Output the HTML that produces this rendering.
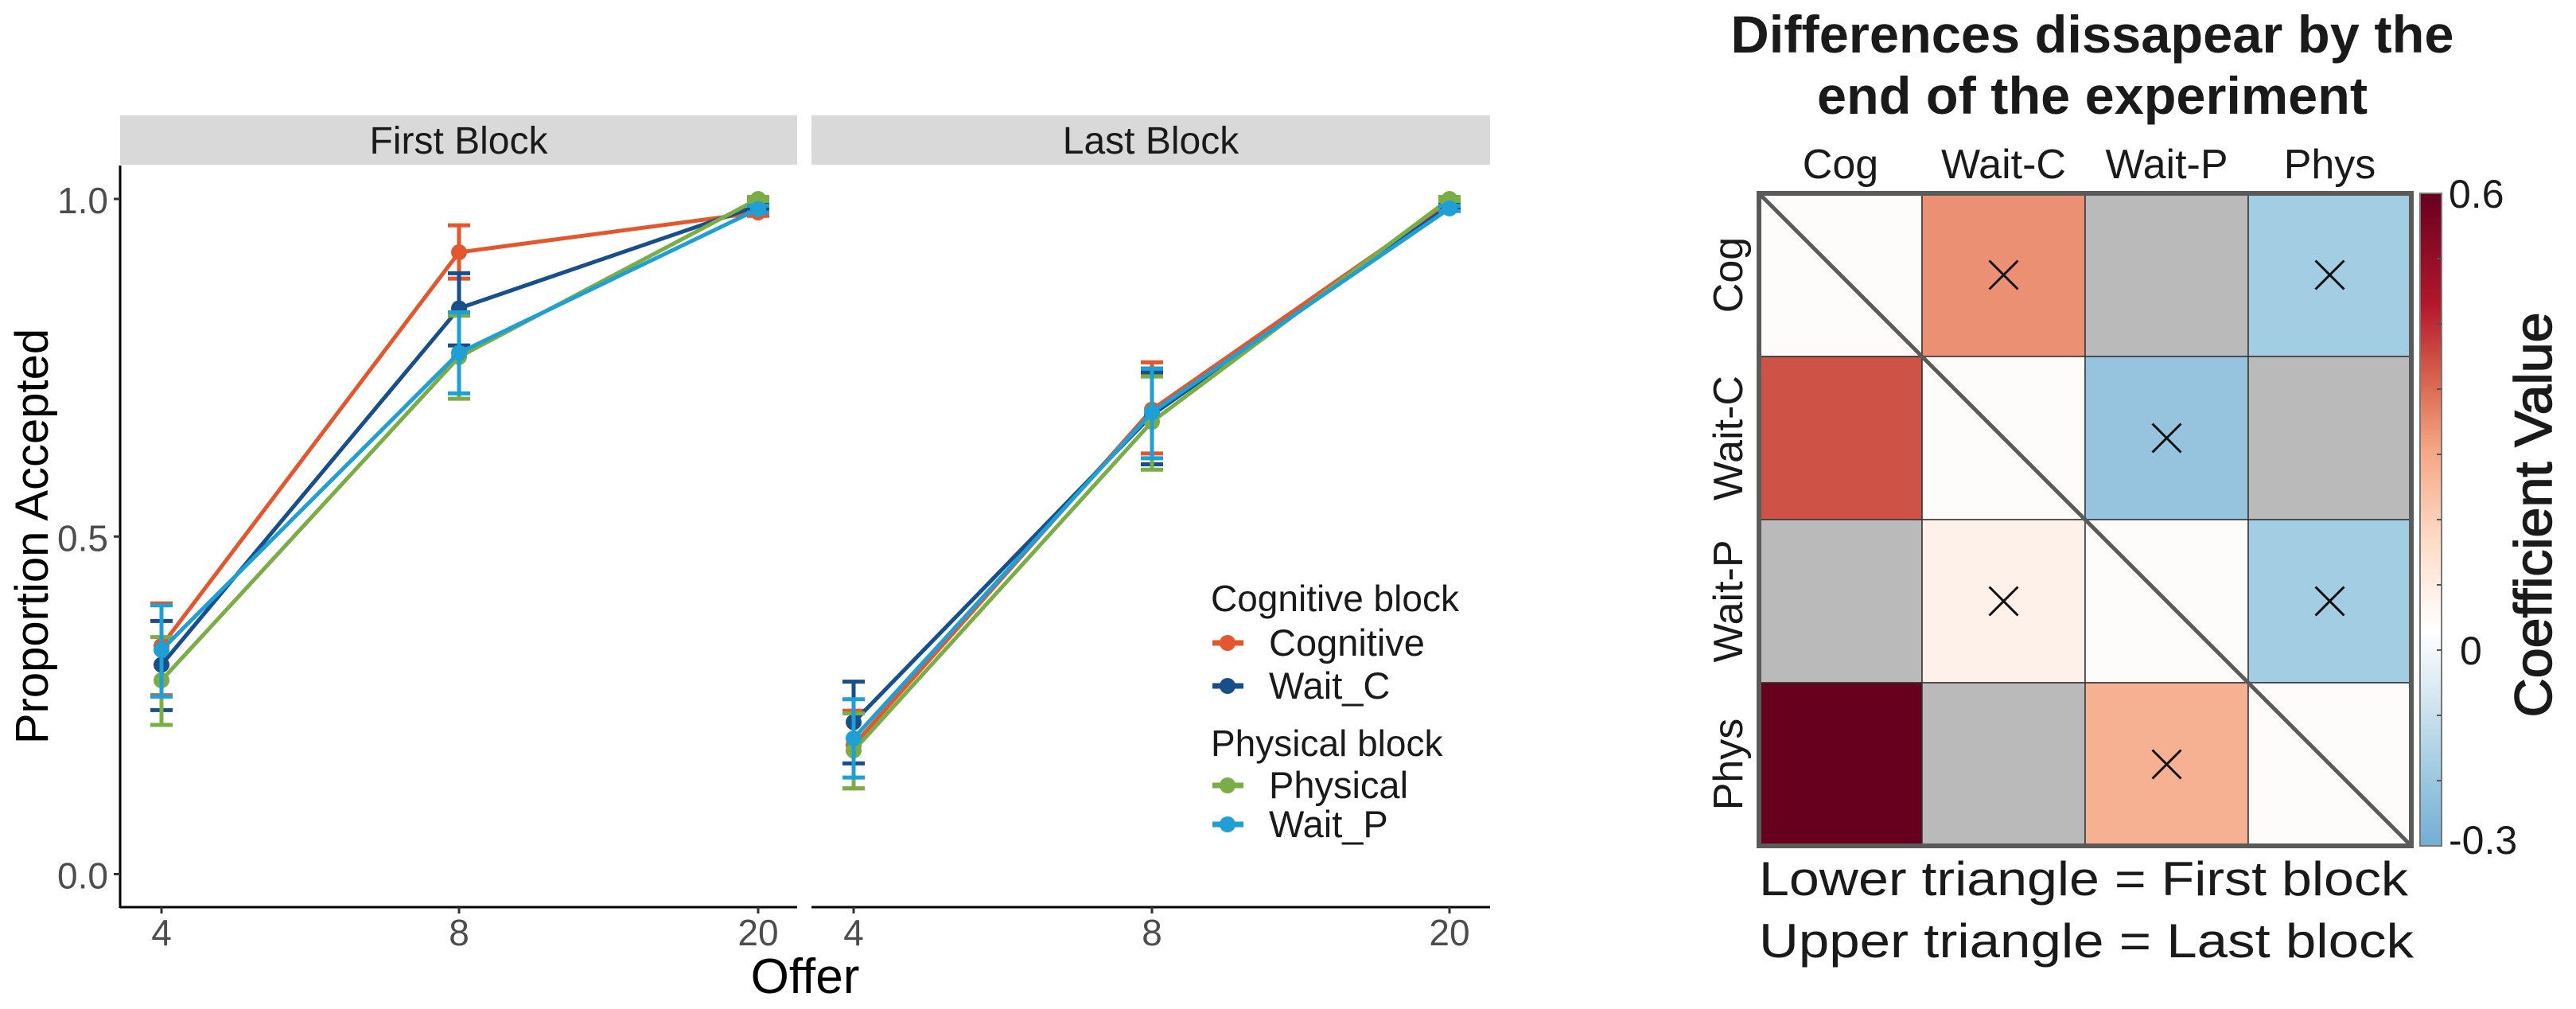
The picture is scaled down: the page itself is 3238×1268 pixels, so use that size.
<!DOCTYPE html>
<html><head><meta charset="utf-8"><style>
html,body{margin:0;padding:0;background:#fff;}
svg{display:block;font-family:"Liberation Sans",Arial,sans-serif;}
</style></head><body>
<svg id="root" width="3238" height="1268" viewBox="0 0 3238 1268" xmlns="http://www.w3.org/2000/svg">
<defs>
<linearGradient id="cbar" x1="0" y1="0" x2="0" y2="1">
<stop offset="0" stop-color="#67001f"/><stop offset="0.17" stop-color="#b2182b"/><stop offset="0.28" stop-color="#d6604d"/><stop offset="0.39" stop-color="#f4a582"/><stop offset="0.53" stop-color="#fddbc7"/><stop offset="0.67" stop-color="#ffffff"/><stop offset="0.78" stop-color="#d1e5f0"/><stop offset="0.89" stop-color="#9ecae1"/><stop offset="1" stop-color="#74add4"/>
</linearGradient>
</defs>
<g id="lines"></g>
<g id="heat"></g>
</svg>
<script>
const offers = ["4","8","20"];
const series = ["Cognitive","Wait_C","Physical","Wait_P"];
const colors = ["#e4572e","#164f8a","#7aad45","#1f9fd3"];
// First block
const firstMean = [[0.338,0.921,0.980],[0.310,0.838,0.990],[0.287,0.766,1.000],[0.332,0.772,0.985]];
const firstHi   = [[0.401,0.961,0.985],[0.375,0.890,0.995],[0.351,0.827,1.003],[0.398,0.832,0.990]];
const firstLo   = [[0.265,0.882,0.975],[0.243,0.783,0.985],[0.221,0.704,0.997],[0.263,0.712,0.980]];
// Last block
const lastMean = [[0.191,0.688,0.995],[0.225,0.680,0.990],[0.183,0.670,1.000],[0.201,0.684,0.986]];
const lastHi   = [[0.242,0.758,0.999],[0.285,0.743,0.994],[0.238,0.737,1.003],[0.259,0.749,0.990]];
const lastLo   = [[0.127,0.623,0.991],[0.164,0.607,0.986],[0.127,0.599,0.997],[0.143,0.616,0.982]];
const yTicks = [0,0.5,1.0];
const yTickLabels = ["0.0","0.5","1.0"];
// heatmap
const hmLabels = ["Cog","Wait-C","Wait-P","Phys"];
const hmValues = [[0,0.28,null,-0.19],[0.37,0,-0.22,null],[null,0.04,0,-0.19],[0.6,null,0.22,0]];
const hmCross = [[0,1,0,1],[0,0,1,0],[0,1,0,1],[0,0,1,0]];
const cbTickLabels = ["0.6","0","-0.3"];

const NS="http://www.w3.org/2000/svg";
function mk(tag,attrs,parent,text){const e=document.createElementNS(NS,tag);for(const k in attrs)e.setAttribute(k,attrs[k]);if(text!==undefined)e.textContent=text;parent.appendChild(e);return e;}
const L=document.getElementById('lines');
const yS=v=>1098.5-(v)*848.5;
const panels=[{x0:151,x1:1002,xs:[203,577,953],title:"First Block",m:firstMean,hi:firstHi,lo:firstLo},
              {x0:1020,x1:1873,xs:[1073,1448,1822],title:"Last Block",m:lastMean,hi:lastHi,lo:lastLo}];
panels.forEach((p,pi)=>{
  const g=mk('g',{},L);
  
  
  const st=mk('rect',{x:p.x0,y:145,width:p.x1-p.x0,height:62,fill:'#d9d9d9'},g);
  
  
  const stt=mk('text',{x:(p.x0+p.x1)/2,y:193,'font-size':48,'text-anchor':'middle',fill:'#1a1a1a'},g,p.title);
  
  
  const xa=mk('line',{x1:p.x0,x2:p.x1,y1:1140,y2:1140,stroke:'#000','stroke-width':3},g);
  
  
  p.xs.forEach((x,i)=>{
    mk('line',{x1:x,x2:x,y1:1140,y2:1148,stroke:'#333','stroke-width':3},g);
    const t=mk('text',{x:x,y:1188,'font-size':46,'text-anchor':'middle',fill:'#4d4d4d'},g,offers[i]);
    
    
  });
  if(pi===0){
    const ya=mk('line',{x1:151,x2:151,y1:208,y2:1141,stroke:'#000','stroke-width':3},g);
    
    
    yTicks.forEach((v,i)=>{
      mk('line',{x1:143,x2:151,y1:yS(v),y2:yS(v),stroke:'#333','stroke-width':3},g);
      const t=mk('text',{x:136,y:yS(v)+18,'font-size':46,'text-anchor':'end',fill:'#4d4d4d'},g,yTickLabels[i]);
      
      
    });
  }
  series.forEach((s,si)=>{
    const sg=mk('g',{},g);
    
    
    p.xs.forEach((x,i)=>{
      mk('line',{x1:x,x2:x,y1:yS(p.hi[si][i]),y2:yS(p.lo[si][i]),stroke:colors[si],'stroke-width':5},sg);
      mk('line',{x1:x-14,x2:x+14,y1:yS(p.hi[si][i]),y2:yS(p.hi[si][i]),stroke:colors[si],'stroke-width':5},sg);
      mk('line',{x1:x-14,x2:x+14,y1:yS(p.lo[si][i]),y2:yS(p.lo[si][i]),stroke:colors[si],'stroke-width':5},sg);
    });
    const pts=p.xs.map((x,i)=>x+','+yS(p.m[si][i])).join(' ');
    const pl=mk('polyline',{points:pts,fill:'none',stroke:colors[si],'stroke-width':5},sg);
    
    
    p.xs.forEach((x,i)=>{
      const c=mk('circle',{cx:x,cy:yS(p.m[si][i]),r:10,fill:colors[si]},sg);
      
      
    });
  });
});
// axis titles
const yt=mk('text',{x:0,y:0,'font-size':58,'text-anchor':'middle',fill:'#000',transform:'translate(60,674) rotate(-90)'},L,'Proportion Accepted');


const xt=mk('text',{x:1012,y:1248,'font-size':62,'text-anchor':'middle',fill:'#000'},L,'Offer');


// legend
const lg=mk('g',{},L);


const legRows=[{t:'Cognitive block',y:768,title:true},{t:'Cognitive',y:808,c:0},{t:'Wait_C',y:862,c:1},{t:'Physical block',y:950,title:true},{t:'Physical',y:987,c:2},{t:'Wait_P',y:1036,c:3}];
legRows.forEach(r=>{
  if(r.title){
    const t=mk('text',{x:1522,y:r.y,'font-size':46,fill:'#1a1a1a'},lg,r.t);
    
    
  } else {
    const e=mk('g',{},lg);
    
    
    mk('line',{x1:1524,x2:1563,y1:r.y,y2:r.y,stroke:colors[r.c],'stroke-width':7},e);
    mk('circle',{cx:1543,cy:r.y,r:10,fill:colors[r.c]},e);
    mk('text',{x:1595,y:r.y+16,'font-size':47,fill:'#1a1a1a'},e,r.t);
  }
});

// heatmap
const H=document.getElementById('heat');
const gx0=2211, gy0=243, cw=205, ch=205;
const stops=[[0.6,[103,0,31]],[0.45,[178,24,43]],[0.35,[214,96,77]],[0.25,[244,165,130]],[0.12,[253,219,199]],[0,[253,252,250]],[-0.1,[209,229,240]],[-0.2,[158,202,225]],[-0.3,[116,173,212]]];
function cmap(v){
  if(v===null) return '#bababa';
  for(let i=0;i<stops.length-1;i++){const a=stops[i],b=stops[i+1];
    if(v<=a[0]&&v>=b[0]){const t=(a[0]-v)/(a[0]-b[0]);const c=a[1].map((x,k)=>Math.round(x+(b[1][k]-x)*t));return 'rgb('+c.join(',')+')';}}
  return v>0?'rgb(103,0,31)':'rgb(116,173,212)';
}
const tt1=mk('text',{x:2630,y:66,'font-size':66,'font-weight':'bold','text-anchor':'middle',fill:'#1a1a1a',textLength:909,lengthAdjust:'spacingAndGlyphs'},H,'Differences dissapear by the');


const tt2=mk('text',{x:2630,y:143,'font-size':66,'font-weight':'bold','text-anchor':'middle',fill:'#1a1a1a',textLength:692,lengthAdjust:'spacingAndGlyphs'},H,'end of the experiment');


hmValues.forEach((row,r)=>row.forEach((v,c)=>{
  const rc=mk('rect',{x:gx0+c*cw,y:gy0+r*ch,width:cw,height:ch,fill:cmap(v),stroke:'#333','stroke-width':1.5},H);
  
  
  if(hmCross[r][c]){
    const cx=gx0+c*cw+cw/2, cy=gy0+r*ch+ch/2;
    mk('path',{d:`M${cx-18} ${cy-18}L${cx+18} ${cy+18}M${cx+18} ${cy-18}L${cx-18} ${cy+18}`,stroke:'#111','stroke-width':3},H);
  }
}));
mk('line',{x1:gx0,y1:gy0,x2:gx0+4*cw,y2:gy0+4*ch,stroke:'#5a5a5a','stroke-width':5},H);
const bd=mk('rect',{x:gx0,y:gy0,width:4*cw,height:4*ch,fill:'none',stroke:'#5a5a5a','stroke-width':6},H);


hmLabels.forEach((l,i)=>{
  const t=mk('text',{x:gx0+i*cw+cw/2,y:224,'font-size':52,'text-anchor':'middle',fill:'#1a1a1a'},H,l);
  
  
  const t2=mk('text',{x:0,y:0,'font-size':52,'text-anchor':'middle',fill:'#1a1a1a',transform:`translate(2190,${gy0+i*ch+ch/2}) rotate(-90)`},H,l);
  
  
});
const cb=mk('rect',{x:3042,y:243,width:27,height:820,fill:'url(#cbar)',stroke:'#777','stroke-width':2},H);


for(let i=1;i<10;i++){mk('line',{x1:3063,x2:3069,y1:243+i*82,y2:243+i*82,stroke:'#555','stroke-width':2},H);}
[[cbTickLabels[0],261],[cbTickLabels[1],835],[cbTickLabels[2],1073]].forEach(a=>{
  const t=mk('text',{x:a[0]==='0'?3092:3078,y:a[1],'font-size':50,fill:'#1a1a1a'},H,a[0]);
  
  
});
const ct=mk('text',{x:0,y:0,'font-size':66,'text-anchor':'middle',fill:'#1a1a1a',stroke:'#1a1a1a','stroke-width':1.5,textLength:509,lengthAdjust:'spacingAndGlyphs',transform:'translate(3207,647) rotate(-90)'},H,'Coefficient Value');


const b1=mk('text',{x:2211,y:1125,'font-size':60,fill:'#1a1a1a',textLength:816,lengthAdjust:'spacingAndGlyphs'},H,'Lower triangle = First block');


const b2=mk('text',{x:2211,y:1203,'font-size':60,fill:'#1a1a1a',textLength:823,lengthAdjust:'spacingAndGlyphs'},H,'Upper triangle = Last block');


</script>
</body></html>
